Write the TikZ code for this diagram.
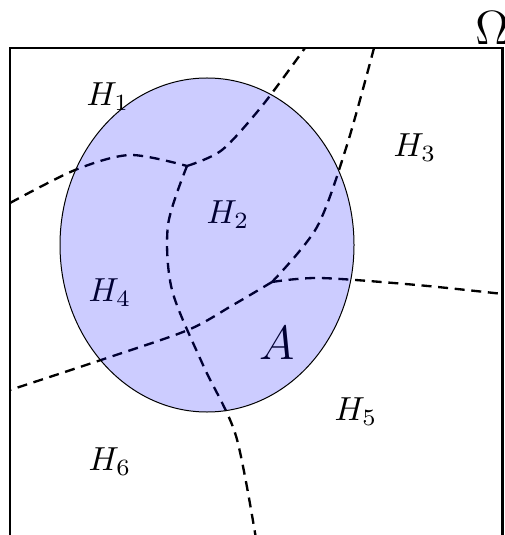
\documentclass[tikz,border=0pt]{standalone}
\usepackage{amsmath,amssymb}
\usepackage{tikz}
\usetikzlibrary{positioning}

\begin{document}
\begin{tikzpicture}[
  x=0.3pt, y=-0.3pt,
  frame/.style={draw, line width=0.7pt},
  cut/.style={draw, line width=0.7pt, dash pattern=on 3pt off 2pt},
  setA/.style={draw, line width=0.3pt, fill=blue, fill opacity=0.2}
]
\useasboundingbox (0,0) rectangle (504,535);
\draw[frame] (10,48) rectangle (502.5,570);
\node (omega) at (492,28) {\Large$\Omega$};

\coordinate (j1) at (187,166);
\coordinate (j2) at (272,282);

% partition lines
\draw[cut] plot[smooth] coordinates {(10,203) (75,170) (130,155) (j1)};
\draw[cut] plot[smooth] coordinates {(j1) (222,150) (262,106) (305,48)};
\draw[cut] plot[smooth] coordinates {(j1) (168,225) (172,290) (203,365) (236,436) (257,545)};
\draw[cut] plot[smooth] coordinates {(374,48) (347,145) (317,227) (j2)};
\draw[cut] plot[smooth] coordinates {(j2) (320,278) (417,285) (503,294)};
\draw[cut] plot[smooth] coordinates {(j2) (233,305) (188,330) (107,358) (10,390)};

% labels
\node (h1) at (108,97) {$H_1$};
\node (h2) at (228,215) {$H_2$};
\node (h3) at (415,148) {$H_3$};
\node (h4) at (110,293) {$H_4$};
\node (h5) at (356,412) {$H_5$};
\node (h6) at (110,462) {$H_6$};
\node (a) at (277,343) {\fontsize{14}{16}\selectfont$A$};

% the set A
\draw[setA] (207,245) ellipse [x radius=147, y radius=167];
\end{tikzpicture}
\end{document}
